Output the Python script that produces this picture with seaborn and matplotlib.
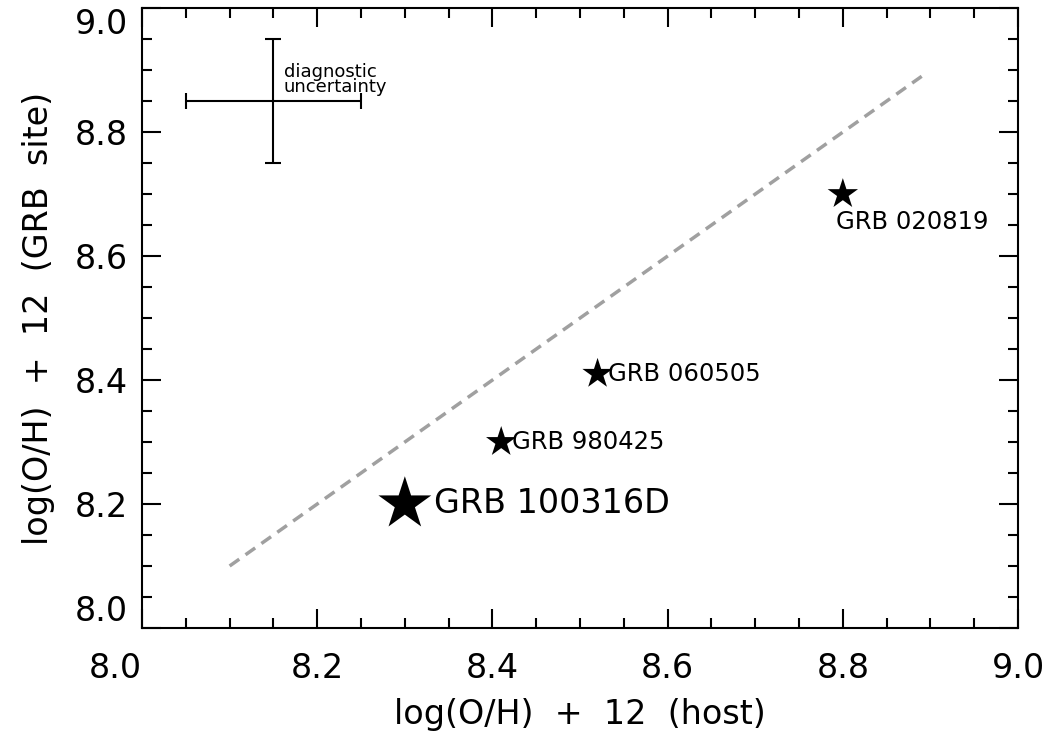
import numpy as np
import pandas as pd
import seaborn as sns
import matplotlib.pyplot as plt
from matplotlib.ticker import MultipleLocator

# GRB metallicities: host vs explosion site
names = ["GRB 100316D", "GRB 980425", "GRB 060505", "GRB 020819"]
host = [8.30, 8.41, 8.52, 8.80]
site = [8.20, 8.30, 8.41, 8.70]
big = [True, False, False, False]

# one-to-one line and the diagnostic error cross
line_x = [8.1, 8.89]
line_y = [8.1, 8.89]
cross_x, cross_y = 8.15, 8.85
cross_err = 0.1

major_ticks = [8.0, 8.2, 8.4, 8.6, 8.8, 9.0]
tick_labels = ["8.0", "8.2", "8.4", "8.6", "8.8", "9.0"]

df = pd.DataFrame({"host": host, "site": site, "name": names, "big": big})

sns.set_style("ticks")
plt.rcParams["font.family"] = ["DejaVu Sans"]
plt.rcParams["text.color"] = "black"
plt.rcParams["axes.labelcolor"] = "black"
plt.rcParams["xtick.labelcolor"] = "black"
plt.rcParams["ytick.labelcolor"] = "black"

fig = plt.figure(figsize=(10.53, 7.4), dpi=100)
ax = fig.add_axes([0.1349, 0.1514, 0.8319, 0.8376])

sns.lineplot(x=line_x, y=line_y, ax=ax, color="#a0a0a0", lw=2.5,
             linestyle=(0, (3.4, 2.2)))

sns.scatterplot(data=df[~df.big], x="host", y="site", marker="*", s=23**2,
                color="black", edgecolor="none", ax=ax, legend=False)
sns.scatterplot(data=df[df.big], x="host", y="site", marker="*", s=40**2,
                color="black", edgecolor="none", ax=ax, legend=False)

# labels next to the stars
ax.text(host[0] + 0.033, site[0], names[0], fontsize=24, va="center", ha="left")
ax.text(host[1] + 0.012, site[1], names[1], fontsize=17.5, va="center", ha="left")
ax.text(host[2] + 0.012, site[2], names[2], fontsize=17.5, va="center", ha="left")
ax.text(host[3] - 0.008, site[3] - 0.025, names[3], fontsize=17.5, va="top", ha="left")

ax.errorbar(cross_x, cross_y, xerr=cross_err, yerr=cross_err, color="black",
            lw=1.5, capsize=6, capthick=1.5)
ax.text(cross_x + 0.012, cross_y + 0.035, "diagnostic\nuncertainty",
        fontsize=13, va="center", ha="left", linespacing=0.8)

ax.set_xlim(8.0, 9.0)
ax.set_ylim(8.0, 9.0)
ax.set_xticks(major_ticks, tick_labels)
ax.set_yticks(major_ticks, tick_labels)
ax.xaxis.set_minor_locator(MultipleLocator(0.05))
ax.yaxis.set_minor_locator(MultipleLocator(0.05))
ax.tick_params(which="both", direction="in", top=True, right=True,
               width=1.5, labelsize=24, color="black")
ax.tick_params(which="major", length=14)
ax.tick_params(which="minor", length=7)
ax.tick_params(axis="x", which="major", pad=17)
ax.tick_params(axis="y", which="major", pad=10)
for sp in ax.spines.values():
    sp.set_linewidth(1.5)
    sp.set_color("black")

# keep end labels inside the figure, like the original
yt = ax.yaxis.get_major_ticks()
yt[0].label1.set_verticalalignment("bottom")
yt[-1].label1.set_verticalalignment("top")
ax.xaxis.get_major_ticks()[0].label1.set_horizontalalignment("right")

ax.set_xlabel("log(O/H)  +  12  (host)", fontsize=24, labelpad=10)
ax.set_ylabel("log(O/H)  +  12  (GRB  site)", fontsize=24, labelpad=14)

fig.savefig("out.png", dpi=100)
